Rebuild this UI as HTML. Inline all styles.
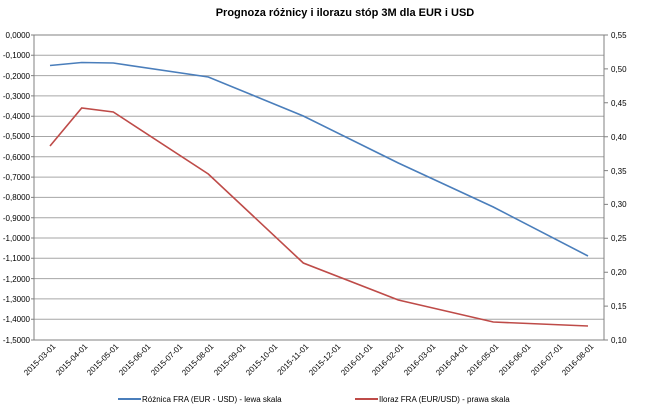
<!DOCTYPE html>
<html><head><meta charset="utf-8"><style>body{margin:0;background:#fff}svg{display:block}</style></head><body>
<svg width="645" height="416" xmlns="http://www.w3.org/2000/svg" font-family="Liberation Sans, sans-serif">
<text x="345" y="16" text-anchor="middle" font-size="11" font-weight="bold" fill="#000">Prognoza różnicy i ilorazu  stóp 3M dla EUR i USD</text>
<g stroke="#a6a6a6" stroke-width="1">
<line x1="34" x2="604" y1="55.3" y2="55.3"/><line x1="34" x2="604" y1="75.6" y2="75.6"/><line x1="34" x2="604" y1="95.9" y2="95.9"/><line x1="34" x2="604" y1="116.2" y2="116.2"/><line x1="34" x2="604" y1="136.5" y2="136.5"/><line x1="34" x2="604" y1="156.8" y2="156.8"/><line x1="34" x2="604" y1="177.1" y2="177.1"/><line x1="34" x2="604" y1="197.4" y2="197.4"/><line x1="34" x2="604" y1="217.7" y2="217.7"/><line x1="34" x2="604" y1="238" y2="238"/><line x1="34" x2="604" y1="258.3" y2="258.3"/><line x1="34" x2="604" y1="278.6" y2="278.6"/><line x1="34" x2="604" y1="298.9" y2="298.9"/><line x1="34" x2="604" y1="319.2" y2="319.2"/>
</g>
<g stroke="#808080" stroke-width="1" fill="none">
<line x1="34" y1="35" x2="34" y2="340"/><line x1="604" y1="35" x2="604" y2="340"/>
<line x1="34" y1="340" x2="604" y1="340" y2="340"/><line x1="34" y1="35" x2="604" y2="35"/>
<path d="M34 35h-3M34 55.3h-3M34 75.6h-3M34 95.9h-3M34 116.2h-3M34 136.5h-3M34 156.8h-3M34 177.1h-3M34 197.4h-3M34 217.7h-3M34 238h-3M34 258.3h-3M34 278.6h-3M34 298.9h-3M34 319.2h-3M34 340h-3"/>
<path d="M604 35h4M604 68.9h4M604 102.8h4M604 136.7h4M604 170.6h4M604 204.4h4M604 238.3h4M604 272.2h4M604 306.1h4M604 340h4"/>
</g>
<g font-size="8" fill="#000" text-anchor="end">
<text x="30" y="38">0,0000</text><text x="30" y="58">-0,1000</text><text x="30" y="79">-0,2000</text><text x="30" y="99">-0,3000</text><text x="30" y="119">-0,4000</text><text x="30" y="139">-0,5000</text><text x="30" y="160">-0,6000</text><text x="30" y="180">-0,7000</text><text x="30" y="200">-0,8000</text><text x="30" y="221">-0,9000</text><text x="30" y="241">-1,0000</text><text x="30" y="261">-1,1000</text><text x="30" y="282">-1,2000</text><text x="30" y="302">-1,3000</text><text x="30" y="322">-1,4000</text><text x="30" y="343">-1,5000</text>
</g>
<g font-size="8" fill="#000">
<text x="611" y="38">0,55</text><text x="611" y="72">0,50</text><text x="611" y="106">0,45</text><text x="611" y="140">0,40</text><text x="611" y="174">0,35</text><text x="611" y="207">0,30</text><text x="611" y="241">0,25</text><text x="611" y="275">0,20</text><text x="611" y="309">0,15</text><text x="611" y="343">0,10</text>
</g>
<g font-size="8" fill="#000" text-anchor="end">
<text transform="translate(56,347) rotate(-45)">2015-03-01</text>
<text transform="translate(88,347) rotate(-45)">2015-04-01</text>
<text transform="translate(119,347) rotate(-45)">2015-05-01</text>
<text transform="translate(151,347) rotate(-45)">2015-06-01</text>
<text transform="translate(183,347) rotate(-45)">2015-07-01</text>
<text transform="translate(214,347) rotate(-45)">2015-08-01</text>
<text transform="translate(246,347) rotate(-45)">2015-09-01</text>
<text transform="translate(278,347) rotate(-45)">2015-10-01</text>
<text transform="translate(309,347) rotate(-45)">2015-11-01</text>
<text transform="translate(341,347) rotate(-45)">2015-12-01</text>
<text transform="translate(373,347) rotate(-45)">2016-01-01</text>
<text transform="translate(404,347) rotate(-45)">2016-02-01</text>
<text transform="translate(436,347) rotate(-45)">2016-03-01</text>
<text transform="translate(468,347) rotate(-45)">2016-04-01</text>
<text transform="translate(499,347) rotate(-45)">2016-05-01</text>
<text transform="translate(531,347) rotate(-45)">2016-06-01</text>
<text transform="translate(563,347) rotate(-45)">2016-07-01</text>
<text transform="translate(594,347) rotate(-45)">2016-08-01</text>
</g>
<polyline fill="none" stroke="#4a7ebb" stroke-width="1.6" points="50,65.5 81.7,62.5 113.3,63 208.3,77 303.3,116 398.3,163 493.3,207 588,256"/>
<polyline fill="none" stroke="#be4b48" stroke-width="1.6" points="50,146 81.7,108 113.3,112 208.3,174 303.3,263 398.3,300 493.3,322 588,326"/>
<line x1="118" y1="399" x2="141" y2="399" stroke="#4a7ebb" stroke-width="2"/>
<text x="142" y="402" font-size="8" fill="#000">Różnica FRA (EUR - USD) - lewa skala</text>
<line x1="355" y1="399" x2="378" y2="399" stroke="#be4b48" stroke-width="2"/>
<text x="379" y="402" font-size="8" fill="#000">Iloraz FRA (EUR/USD) - prawa skala</text>
</svg>
</body></html>
